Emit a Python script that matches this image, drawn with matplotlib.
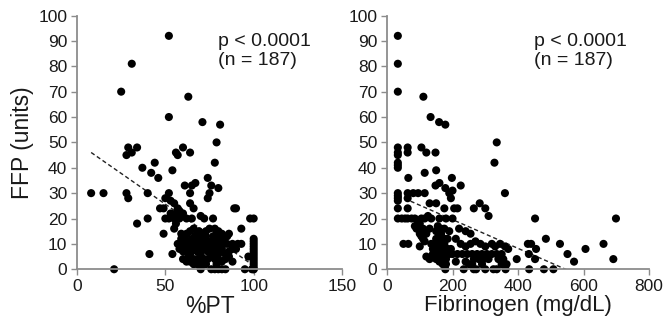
import matplotlib
matplotlib.use("Agg")
import matplotlib.pyplot as plt
import numpy as np

# ---------------- data ----------------
pt_x = [52, 31, 25, 63, 52, 71, 81, 79,
        29, 34, 28, 31, 60, 56, 57, 64,
        37, 44, 42, 46, 54, 78, 74,
        8, 15, 28, 29, 40, 52, 50, 53, 61, 65, 67, 64, 75, 74, 76, 80,
        55, 57, 47, 49, 53, 56, 58, 60, 64, 66, 89, 90, 40, 50, 52, 55, 58, 62, 65, 70, 72, 77, 98, 100, 58,
        34, 56, 55, 49, 62, 64, 66, 70, 73, 75, 78, 80, 82, 86, 93, 68,
        57, 59, 61, 63, 65, 67, 69, 71, 72, 74, 76, 78, 79, 81, 83, 85, 88, 91, 93, 100, 100, 100, 60, 75,
        41, 54, 58, 60, 62, 64, 66, 68, 70, 72, 74, 76, 78, 80, 82, 84, 86, 88, 90, 97, 100, 100, 100, 100, 63,
        21, 66, 68, 70, 72, 74, 76, 78, 80, 82, 84, 86, 70, 76, 78, 80, 82, 84, 95, 100, 100, 100, 100, 100, 100, 99, 73, 79, 88,
        59, 61, 67, 69, 71, 73, 77, 79, 81, 83, 85, 65, 67, 69, 71, 73, 75, 77, 79, 81, 60, 62, 64, 66, 68, 70, 72, 100]
pt_y = [92, 81, 70, 68, 60, 58, 57, 50,
        48, 48, 45, 46, 48, 46, 45, 46,
        40, 42, 38, 36, 39, 42, 36,
        30, 30, 30, 28, 30, 30, 28, 27, 33, 33, 34, 30, 30, 28, 33, 32,
        26, 24, 24, 24, 22, 22, 23, 22, 26, 24, 24, 24, 20, 20, 20, 20, 20, 20, 20, 21, 20, 20, 20, 20, 21,
        18, 18, 16, 14, 14, 15, 16, 14, 15, 16, 16, 15, 14, 14, 16, 14,
        10, 12, 10, 11, 12, 10, 12, 10, 12, 10, 11, 12, 10, 12, 10, 10, 10, 10, 10, 12, 11, 10, 9, 9,
        6, 6, 8, 7, 8, 6, 8, 7, 6, 8, 7, 6, 8, 6, 8, 6, 7, 8, 8, 5, 9, 8, 7, 6, 5,
        0, 4, 4, 5, 4, 4, 5, 4, 4, 3, 4, 5, 0, 0, 0, 0, 0, 0, 0, 5, 4, 3, 2, 1, 0, 0, 2, 2, 3,
        14, 13, 13, 15, 14, 13, 13, 14, 13, 12, 13, 9, 9, 9, 8, 9, 9, 8, 9, 9, 4, 3, 3, 2, 2, 3, 2, 0]

fib_x = [33, 33, 33, 111, 133, 159, 178, 335, 328, 360, 452, 699, 691, 661, 606, 571, 551, 528, 485, 455, 440, 430, 433, 452, 508, 479, 434, 396,
         33, 33, 33, 33, 33, 33, 33, 33, 33, 33, 33, 33,
         63, 63, 65, 63, 63, 63, 63, 65,
         105, 120, 148, 115, 150, 160, 148, 178, 190, 195, 198, 225, 200, 80, 95, 115, 130, 150, 175, 205, 215, 265, 283, 300, 310, 200,
         45, 55, 75, 85, 100, 105, 115, 125, 135, 90, 100, 110, 120, 130, 150, 165, 175, 190, 220, 240, 255, 180, 160,
         50, 100, 115, 135, 150, 160, 165, 175, 185, 195, 210, 225, 240, 255, 270, 285, 300, 320, 330, 345, 360, 370, 140, 170,
         120, 140, 150, 160, 170, 180, 190, 200, 215, 230, 245, 260, 275, 290, 305, 320, 335, 350, 265, 280, 295, 310, 340, 355, 365, 130,
         178, 234, 265, 272, 300, 325, 335, 362, 250, 350, 290,
         155, 165, 170, 160, 175, 185, 145, 155, 165, 175, 160, 170, 180, 95, 105, 85, 110, 155, 165, 210, 240, 260]
fib_y = [92, 81, 70, 68, 60, 58, 57, 50, 42, 30, 20, 20, 4, 10, 8, 3, 6, 10, 12, 8, 10, 10, 6, 4, 0, 0, 0, 4,
         48, 46, 45, 42, 41, 40, 30, 29, 28, 27, 24, 20,
         48, 46, 36, 30, 28, 24, 20, 10,
         48, 46, 46, 38, 39, 34, 33, 32, 30, 28, 36, 33, 31, 30, 30, 30, 26, 26, 24, 24, 24, 24, 26, 24, 21, 20,
         20, 20, 20, 20, 18, 20, 20, 21, 20, 16, 14, 16, 14, 16, 15, 14, 16, 15, 16, 15, 14, 20, 20,
         10, 9, 11, 10, 12, 9, 11, 10, 12, 8, 12, 10, 9, 10, 11, 10, 9, 10, 9, 10, 9, 8, 8, 8,
         5, 6, 4, 6, 5, 4, 6, 6, 6, 6, 6, 6, 6, 6, 6, 6, 6, 6, 4, 4, 4, 4, 4, 4, 2, 4,
         0, 0, 0, 0, 0, 0, 0, 0, 2, 2, 2,
         12, 13, 7, 7, 12, 8, 10, 8, 5, 3, 3, 2, 2, 18, 13, 17, 12, 17, 16, 3, 3, 2]

# trend lines: slope, intercept
pt_trend = [-0.485, 49.9]
fib_trend = [-0.0567, 30.9]

pt_ticks = [0, 50, 100, 150]
fib_ticks = [0, 200, 400, 600, 800]
y_ticks = [0, 10, 20, 30, 40, 50, 60, 70, 80, 90, 100]
annot = "p < 0.0001\n(n = 187)"

# ---------------- figure ----------------
plt.rcParams['font.family'] = ['Liberation Sans', 'DejaVu Sans']
fig = plt.figure(figsize=(6.65, 3.24), dpi=100)
ax1 = fig.add_axes([0.1158, 0.169, 0.3985, 0.783])
ax2 = fig.add_axes([0.582, 0.169, 0.394, 0.783])

spine_col = '#8c8c8c'
txt_col = '#1a1a1a'

def style(ax, xmax, xticks):
    ax.set_xlim(0, xmax)
    ax.set_ylim(0, 100)
    ax.set_xticks(xticks)
    ax.set_yticks(y_ticks)
    for s in ['top', 'right']:
        ax.spines[s].set_visible(False)
    for s in ['left', 'bottom']:
        ax.spines[s].set_color(spine_col)
        ax.spines[s].set_linewidth(1.3)
    ax.tick_params(axis='both', colors=spine_col, labelcolor=txt_col,
                   labelsize=12.5, length=4, width=1.0, direction='out', pad=3)

style(ax1, 150, pt_ticks)
style(ax2, 800, fib_ticks)

for ax, xs, ys, tr in [(ax1, pt_x, pt_y, pt_trend), (ax2, fib_x, fib_y, fib_trend)]:
    xs = np.asarray(xs, float)
    ys = np.asarray(ys, float)
    lx = np.array([xs.min(), xs.max()])
    ly = tr[0] * lx + tr[1]
    ax.plot(lx, ly, ls=(0, (3, 2)), color='#222222', lw=1.0, zorder=1)
    ax.scatter(xs, ys, s=34, color='black', edgecolors='none', zorder=2, clip_on=False)

ax1.text(80, 86, annot, fontsize=14, va='center', ha='left', color=txt_col, linespacing=1.15)
ax2.text(449, 86, annot, fontsize=14, va='center', ha='left', color=txt_col, linespacing=1.15)

ax1.set_ylabel("FFP (units)", fontsize=16.5, color=txt_col, labelpad=3)
ax1.set_xlabel("%PT", fontsize=16.5, color=txt_col, labelpad=1)
ax2.set_xlabel("Fibrinogen (mg/dL)", fontsize=16, color=txt_col, labelpad=1,
               family=['Liberation Sans Narrow', 'Liberation Sans', 'DejaVu Sans'])

fig.savefig("out.png", dpi=100)
